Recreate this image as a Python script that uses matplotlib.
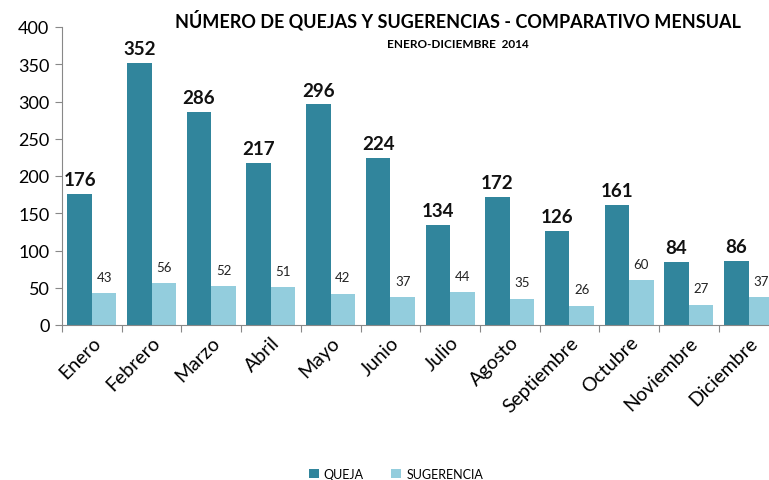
import numpy as np
import matplotlib.pyplot as plt

meses = ['Enero', 'Febrero', 'Marzo', 'Abril', 'Mayo', 'Junio', 'Julio',
         'Agosto', 'Septiembre', 'Octubre', 'Noviembre', 'Diciembre']
queja = [176, 352, 286, 217, 296, 224, 134, 172, 126, 161, 84, 86]
sugerencia = [43, 56, 52, 51, 42, 37, 44, 35, 26, 60, 27, 37]

c_queja = '#31859c'
c_sug = '#93cddd'
plt.rcParams['font.family'] = ['Lato', 'DejaVu Sans']

fig = plt.figure(figsize=(7.69, 4.81), dpi=100)
ax = fig.add_axes([62 / 769, 1 - 326 / 481, 12 * 59.7 / 769, 298 / 481])

x = np.arange(len(meses))
w = 0.41
ax.bar(x - w / 2, queja, w, color=c_queja, label='QUEJA')
ax.bar(x + w / 2, sugerencia, w, color=c_sug, label='SUGERENCIA')

for i in range(len(meses)):
    ax.text(x[i] - w / 2, queja[i] + 8, str(queja[i]), ha='center', va='bottom',
            fontsize=13.5, fontweight='bold', color='#111111')
    ax.text(x[i] + w / 2, sugerencia[i] + 14, str(sugerencia[i]), ha='center',
            va='bottom', fontsize=9.5, color='#222222')

ax.set_xlim(-0.5, len(meses) - 0.5)
ax.set_ylim(0, 400)
ax.set_yticks(range(0, 401, 50))
ax.set_xticks(np.arange(len(meses) + 1) - 0.5)
ax.set_xticklabels([])
ax.set_xticks(x, minor=True)
ax.set_xticklabels(meses, minor=True, rotation=45, ha='right', rotation_mode='anchor',
                   fontsize=14)
ax.tick_params(axis='x', which='minor', length=0, pad=6)
ax.tick_params(axis='x', which='major', length=5, color='#888888')
ax.tick_params(axis='y', length=5, color='#888888', labelsize=13, pad=4)
for s in ['top', 'right']:
    ax.spines[s].set_visible(False)
for s in ['left', 'bottom']:
    ax.spines[s].set_color('#888888')

fig.text(458 / 769, 1 - 20 / 481, 'NÚMERO DE QUEJAS Y SUGERENCIAS - COMPARATIVO MENSUAL',
         ha='center', va='center', fontsize=13, fontweight='bold')
fig.text(458 / 769, 1 - 44 / 481, 'ENERO-DICIEMBRE  2014', ha='center', va='center',
         fontsize=8.5, fontweight='bold')

fig.legend(loc='center', bbox_to_anchor=(396 / 769, 1 - 475 / 481), ncol=2, frameon=False,
           fontsize=9, handlelength=0.8, handleheight=0.8, columnspacing=2.2,
           handletextpad=0.4)

fig.savefig('out.png', dpi=100)
